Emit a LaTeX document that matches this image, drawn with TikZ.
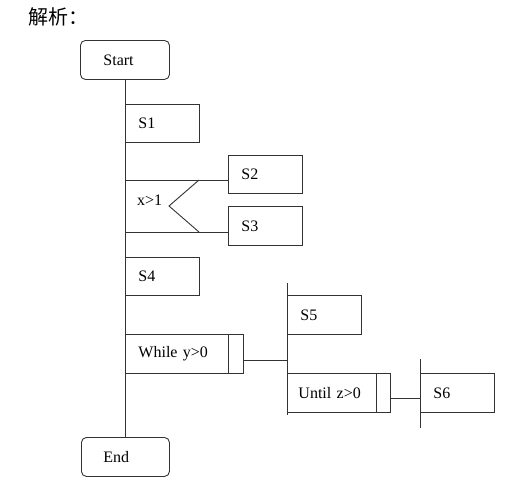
\documentclass[tikz,border=0pt]{standalone}
\usepackage{fontspec}
\setmainfont{Liberation Serif}
\newfontfamily\cjk{Noto Sans CJK SC}
\begin{document}
\begin{tikzpicture}[x=1pt,y=-1pt,
  ln/.style={draw=black!80, line width=0.9pt},
  txt/.style={font=\fontsize{16}{18}\selectfont},
  box/.style={ln, txt, rectangle, anchor=north west, inner ysep=0pt, inner xsep=13pt, align=left},
  rbox/.style={box, rounded corners=5pt}]
\useasboundingbox (0,0) rectangle (521,493);
\node[anchor=west, inner sep=0pt, font=\cjk\fontsize{20}{22}\selectfont] (title) at (28,17) {解析：};
\node[rbox, minimum width=89pt, minimum height=39pt, text width=43pt, inner xsep=23pt] (start) at (80,40) {Start};
\node[rbox, minimum width=88pt, minimum height=39pt, text width=44pt, inner xsep=22pt] (end) at (81,437) {End};
\node[box, minimum height=38pt, text width=48pt] (s1) at (125,104) {S1};
\node[box, minimum height=38pt, text width=48pt] (s2) at (228,155) {S2};
\node[box, minimum height=39pt, text width=48pt] (s3) at (228,206) {S3};
\node[box, minimum height=38pt, text width=48pt] (s4) at (125,257) {S4};
\node[box, minimum height=39pt, text width=92pt] (wh) at (125,334) {While y>0};
\node[box, minimum height=39pt, text width=48pt] (s5) at (287,295) {S5};
\node[box, minimum height=39pt, text width=81pt, inner xsep=11pt] (un) at (287,373) {Until z>0};
\node[box, minimum height=39pt, text width=48pt] (s6) at (420,373) {S6};
\node[txt, anchor=west, inner sep=0pt] (cond) at (137,200) {x>1};
% main spine
\draw[ln] (start.south) -- (start.south |- end.north);
% if branch
\coordinate (b1) at (125,180);
\coordinate (b2) at (125,232);
\draw[ln] (b1) -- (b1 -| s2.west);
\draw[ln] (b2) -- (b2 -| s3.west);
\coordinate (v1) at (199,180);
\coordinate (v2) at (169,206);
\coordinate (v3) at (199,232);
\draw[ln] (v1) -- (v2) -- (v3);
% while
\draw[ln] ([xshift=-15pt]wh.north east) -- ([xshift=-15pt]wh.south east);
\coordinate (p1) at (287,283);
\coordinate (p2) at (287,415);
\draw[ln] (p1) -- (p2);
\draw[ln] ([yshift=-6.5pt]wh.east) -- ([yshift=-6.5pt]wh.east -| p1);
% until
\draw[ln] ([xshift=-14pt]un.north east) -- ([xshift=-14pt]un.south east);
\coordinate (q1) at (420,359);
\coordinate (q2) at (420,428);
\draw[ln] (q1) -- (q2);
\draw[ln] ([yshift=-5.5pt]un.east) -- ([yshift=-5.5pt]un.east -| q1);
\end{tikzpicture}
\end{document}
